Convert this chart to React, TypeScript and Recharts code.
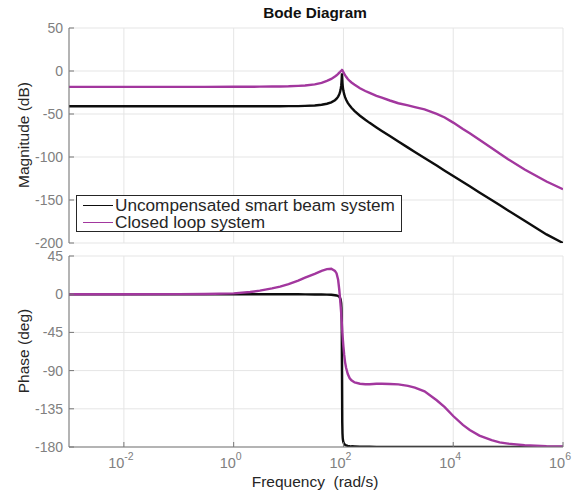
import { CartesianGrid, Line, LineChart, XAxis, YAxis } from "recharts";

// frequency grid (rad/s) and readings
const freq = [
  0.001, 0.01, 0.1, 0.3, 1, 2, 3, 5, 7, 10, 15, 20, 30, 40, 50, 60, 70, 75, 80, 84, 87, 89, 91, 92, 93, 94,
  95, 96, 97, 98, 100, 103, 107, 112, 120, 130, 140, 160, 200, 250, 300, 400, 500, 700, 1000, 1500, 2000,
  3000, 5000, 7000, 10000, 15000, 20000, 30000, 50000, 70000, 100000, 200000, 500000, 1000000,
];

const openMag = [
  -41.0, -41.0, -41.0, -41.0, -41.0, -41.0, -41.0, -41.0, -41.0, -40.9, -40.8, -40.6, -40.1, -39.3, -38.1,
  -36.5, -34.0, -32.2, -29.8, -27.1, -24.1, -21.3, -17.1, -13.8, -8.7, -2.6, -8.8, -14.0, -17.4, -19.9,
  -23.4, -27.0, -30.4, -33.5, -37.0, -40.2, -42.7, -46.6, -52.0, -56.7, -60.3, -65.7, -69.7, -75.7, -82.0,
  -89.1, -94.1, -101.2, -110.0, -115.9, -122.1, -129.1, -134.1, -141.2, -150.0, -155.9, -162.1, -174.1,
  -190.0, -200.0,
];

const closedMag = [
  -18.5, -18.5, -18.5, -18.5, -18.4, -18.3, -18.2, -18.1, -18.0, -17.8, -17.3, -16.8, -15.5, -13.8, -11.5,
  -9.2, -6.5, -5.0, -3.4, -1.9, -1.0, -0.3, 0.3, 0.6, 0.9, 1.2, 1.0, 0.6, 0.1, -0.4, -1.4, -3.0, -4.8, -6.8,
  -9.3, -11.6, -13.4, -16.0, -20.0, -23.3, -25.5, -28.8, -31.0, -34.3, -37.5, -40.0, -42.0, -44.7, -49.8,
  -54.0, -60.0, -67.5, -72.5, -80.0, -89.5, -96.0, -102.5, -114.5, -128.5, -137.5,
];

const openPhase = [
  0, 0, 0, 0, 0, 0, 0, 0, 0, -0.1, -0.1, -0.2, -0.3, -0.4, -0.5, -0.7, -1.2, -1.5, -2.1, -3.0, -4.4, -6.3,
  -10.5, -15.6, -29.2, -90, -150.5, -164.1, -169.2, -171.8, -174.5, -176.3, -177.3, -178.0, -178.6, -179.0,
  -179.2, -179.4, -179.6, -179.7, -179.7, -179.8, -179.8, -179.9, -179.9, -179.9, -179.9, -179.9, -179.9,
  -179.9, -179.9, -179.9, -179.9, -179.9, -179.9, -179.9, -179.9, -179.9, -179.9, -179.9,
];

const closedPhase = [
  0, 0, 0.1, 0.3, 1.0, 2.6, 4.2, 6.8, 9.0, 11.8, 16.0, 19.5, 24.0, 27.5, 29.5, 30.0, 27.5, 24.5, 17.0, 5.0,
  -6.0, -14.0, -22.0, -27.0, -32.0, -37.0, -42.0, -47.0, -51.0, -55.0, -62.0, -71.0, -80.0, -87.0, -94.0,
  -99.0, -101.5, -104.0, -105.5, -106.0, -106.0, -105.5, -105.5, -105.7, -106.2, -108.0, -110.0, -114.5,
  -125.0, -133.0, -143.5, -154.0, -160.0, -166.5, -172.0, -174.5, -176.0, -178.0, -179.0, -179.3,
];

const freqTicks = [0.01, 1, 100, 10000, 1000000];
const magTicks = [-200, -150, -100, -50, 0, 50];
const phaseTicks = [-180, -135, -90, -45, 0, 45];

const seriesNames = ["Uncompensated smart beam system", "Closed loop system"];

const data = freq.map((f, i) => ({
  f,
  openMag: openMag[i],
  closedMag: closedMag[i],
  openPhase: openPhase[i],
  closedPhase: closedPhase[i],
}));

const FONT = '"Liberation Sans", Arial, Helvetica, sans-serif';
const FRAME = "#777777";
const TICK = "#808080";
const LABEL = "#262626";
const GRID = "#e5e5e5";
const BLACK = "#0d0d0d";
const PURPLE = "#a2379e";

const BottomTick = ({ x, y, payload, labels }: any) => {
  const exp = Math.round(Math.log10(payload.value));
  return (
    <g>
      <line x1={x} x2={x} y1={y} y2={y - 5} stroke={FRAME} />
      {labels && (
        <text x={x - 3} y={y + 21} textAnchor="middle" fill={TICK} fontSize={14.5} fontFamily={FONT}>
          10
          <tspan dy={-8} fontSize={10.5}>
            {exp}
          </tspan>
        </text>
      )}
    </g>
  );
};

const TopTick = ({ x, y }: any) => <line x1={x} x2={x} y1={y} y2={y + 5} stroke={FRAME} />;

const LeftTick = ({ x, y, payload }: any) => (
  <g>
    <line x1={x} x2={x + 5} y1={y} y2={y} stroke={FRAME} />
    <text x={x - 6} y={y} dy="0.36em" textAnchor="end" fill={TICK} fontSize={14} fontFamily={FONT}>
      {payload.value}
    </text>
  </g>
);

const RightTick = ({ x, y }: any) => <line x1={x} x2={x - 5} y1={y} y2={y} stroke={FRAME} />;

function Panel({
  keys,
  domain,
  ticks,
  height,
  margin,
  xLabels,
}: {
  keys: [string, string];
  domain: [number, number];
  ticks: number[];
  height: number;
  margin: { top: number; right: number; bottom: number; left: number };
  xLabels: boolean;
}) {
  return (
    <LineChart width={582} height={height} data={data} margin={margin}>
      <CartesianGrid stroke={GRID} />
      <XAxis
        dataKey="f"
        type="number"
        scale="log"
        domain={[0.001, 1000000]}
        ticks={freqTicks}
        interval={0}
        allowDataOverflow
        height={xLabels ? 46 : 0}
        tickSize={0}
        tickMargin={0}
        tickLine={false}
        axisLine={{ stroke: FRAME }}
        tick={<BottomTick labels={xLabels} />}
      />
      <XAxis
        xAxisId="t"
        orientation="top"
        dataKey="f"
        type="number"
        scale="log"
        domain={[0.001, 1000000]}
        ticks={freqTicks}
        interval={0}
        allowDataOverflow
        height={0}
        tickSize={0}
        tickMargin={0}
        tickLine={false}
        axisLine={{ stroke: FRAME }}
        tick={<TopTick />}
      />
      <YAxis
        type="number"
        domain={domain}
        ticks={ticks}
        interval={0}
        allowDataOverflow
        width={69}
        tickSize={0}
        tickMargin={0}
        tickLine={false}
        axisLine={{ stroke: FRAME }}
        tick={<LeftTick />}
      />
      <YAxis
        yAxisId="r"
        orientation="right"
        type="number"
        domain={domain}
        ticks={ticks}
        interval={0}
        allowDataOverflow
        width={0}
        tickSize={0}
        tickMargin={0}
        tickLine={false}
        axisLine={{ stroke: FRAME }}
        tick={<RightTick />}
      />
      <Line dataKey={keys[0]} stroke={BLACK} strokeWidth={2.4} dot={false} activeDot={false} isAnimationActive={false} />
      <Line dataKey={keys[1]} stroke={PURPLE} strokeWidth={2.4} dot={false} activeDot={false} isAnimationActive={false} />
    </LineChart>
  );
}

const vLabel = (text: string, cy: number) => (
  <div
    style={{
      position: "absolute",
      left: 24,
      top: cy,
      transform: "translate(-50%, -50%) rotate(-90deg)",
      whiteSpace: "nowrap",
      fontSize: 15.5,
      color: LABEL,
    }}
  >
    {text}
  </div>
);

export default function App() {
  return (
    <div
      style={{
        position: "absolute",
        left: 0,
        top: 0,
        width: 582,
        height: 493,
        background: "#fff",
        fontFamily: FONT,
        overflow: "hidden",
      }}
    >
      <div style={{ position: "absolute", left: 0, top: 0 }}>
        <Panel
          keys={["openMag", "closedMag"]}
          domain={[-200, 50]}
          ticks={magTicks}
          height={250}
          margin={{ top: 28, right: 19, bottom: 7, left: 0 }}
          xLabels={false}
        />
      </div>
      <div style={{ position: "absolute", left: 0, top: 250 }}>
        <Panel
          keys={["openPhase", "closedPhase"]}
          domain={[-180, 45]}
          ticks={phaseTicks}
          height={243}
          margin={{ top: 6, right: 19, bottom: 0, left: 0 }}
          xLabels={true}
        />
      </div>

      <div
        style={{
          position: "absolute",
          left: 315,
          top: 13,
          transform: "translate(-50%, -50%)",
          fontWeight: "bold",
          fontSize: 15.3,
          color: "#111",
          whiteSpace: "nowrap",
        }}
      >
        Bode Diagram
      </div>
      {vLabel("Magnitude (dB)", 135)}
      {vLabel("Phase (deg)", 351)}
      <div
        style={{
          position: "absolute",
          left: 315,
          top: 482,
          transform: "translate(-50%, -50%)",
          fontSize: 15.5,
          color: LABEL,
          whiteSpace: "pre",
        }}
      >
        {"Frequency  (rad/s)"}
      </div>

      <div
        style={{
          position: "absolute",
          left: 76,
          top: 195,
          width: 326,
          height: 37,
          boxSizing: "border-box",
          border: "1px solid #262626",
          background: "#fff",
          paddingTop: 1,
        }}
      >
        {seriesNames.map((name, i) => (
          <div key={name} style={{ display: "flex", alignItems: "center", height: 16.7 }}>
            <div
              style={{
                marginLeft: 6,
                width: 30,
                height: 0,
                borderTop: `1.3px solid ${i === 0 ? BLACK : PURPLE}`,
              }}
            />
            <span style={{ marginLeft: 2, fontSize: 17.2, color: LABEL, lineHeight: "16.7px", whiteSpace: "nowrap" }}>
              {name}
            </span>
          </div>
        ))}
      </div>
    </div>
  );
}
